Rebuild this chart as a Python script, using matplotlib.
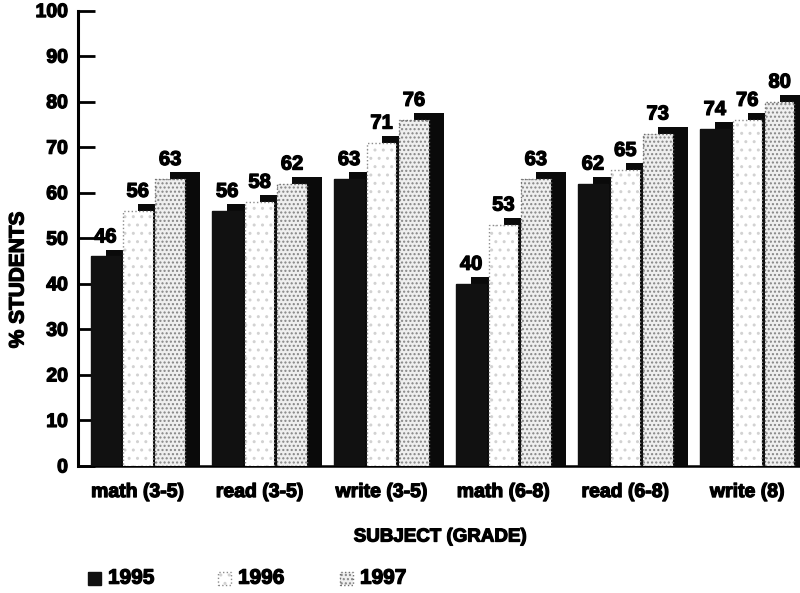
import numpy as np
import matplotlib.pyplot as plt
import matplotlib.patheffects as pe
from matplotlib.patches import Rectangle

subjects = ["math (3-5)", "read (3-5)", "write (3-5)", "math (6-8)", "read (6-8)", "write (8)"]
years = ["1995", "1996", "1997"]
pct_1995 = [46, 56, 63, 40, 62, 74]
pct_1996 = [56, 58, 71, 53, 65, 76]
pct_1997 = [63, 62, 76, 63, 73, 80]
yticks = list(range(0, 101, 10))

plt.rcParams['font.family'] = ['Liberation Sans', 'DejaVu Sans']
plt.rcParams['font.weight'] = 'bold'
plt.rcParams['hatch.linewidth'] = 1.0

# heavier strokes on the bold type
heavy = [pe.withStroke(linewidth=0.9, foreground='black')]

# bar geometry (one group = 1 unit on x)
step = 0.266
width = 0.242
depth_x = 0.123
depth_y = 1.5

# face, hatch (drawn in the hatch colour), outline colour
styles = [
    dict(face='#111111', hatch=None, hcol='#111111', edge='#111111', ls='-'),
    dict(face='white', hatch='..', hcol='#d2d2d2', edge='#8c8c8c', ls=':'),
    dict(face='#efefef', hatch='....', hcol='#858585', edge='#6e6e6e', ls=':'),
]

fig = plt.figure(figsize=(8, 5.93), dpi=100)
ax = fig.add_axes([0.097, 0.2142, 0.903, 0.768])

x = np.arange(len(subjects))
series = [pct_1995, pct_1996, pct_1997]
for j, (vals, st) in enumerate(zip(series, styles)):
    vals = np.array(vals)
    left = x + j * step
    # dark side/top of each 3D bar
    ax.bar(left + depth_x, vals + depth_y, width=width, align='edge',
           color='#0a0a0a', linewidth=0, zorder=3 * j + 2)
    ax.bar(left, vals, width=width, align='edge', facecolor=st['face'],
           edgecolor=st['hcol'], hatch=st['hatch'], linewidth=0,
           zorder=3 * j + 3)
    ax.bar(left, vals, width=width, align='edge', fill=False,
           edgecolor=st['edge'], linestyle=st['ls'], linewidth=1.0,
           zorder=3 * j + 4)
    for xl, v in zip(left, vals):
        ax.text(xl + width / 2, v + depth_y + 0.7, str(v), ha='center',
                va='bottom', fontsize=14.5, fontweight='bold', zorder=20,
                path_effects=heavy)

ax.set_xlim(-13 / 122, 710 / 122)
ax.set_ylim(0, 100)
ax.set_yticks(yticks)
ax.set_xticks(x + (2 * step + width) / 2)
ax.set_xticklabels(subjects)
ax.tick_params(axis='y', direction='in', length=12.5, width=2.0, pad=7,
               labelsize=14)
ax.tick_params(axis='x', length=0, pad=13, labelsize=14)
for lab in ax.get_xticklabels() + ax.get_yticklabels():
    lab.set_fontweight('bold')
    lab.set_path_effects(heavy)

for s in ['top', 'right']:
    ax.spines[s].set_visible(False)
ax.spines['left'].set_linewidth(2.2)
ax.spines['bottom'].set_linewidth(1.8)

fig.text(0.0225, 0.528, "% STUDENTS", rotation=90, ha='center', va='center',
         fontsize=15, fontweight='bold', path_effects=heavy)
fig.text(0.55, 0.0944, "SUBJECT (GRADE)", ha='center', va='center',
         fontsize=13.5, fontweight='bold', path_effects=heavy)

# legend
leg_x = [0.110, 0.2725, 0.425]
for lx, yr, st in zip(leg_x, years, styles):
    fig.add_artist(Rectangle((lx, 0.014), 0.016, 0.022, transform=fig.transFigure,
                             facecolor=st['face'], edgecolor=st['hcol'],
                             hatch=st['hatch'], linewidth=0))
    fig.add_artist(Rectangle((lx, 0.014), 0.016, 0.022, transform=fig.transFigure,
                             fill=False, edgecolor=st['edge'],
                             linestyle=st['ls'], linewidth=1.0))
    fig.text(lx + 0.025, 0.025, yr, ha='left', va='center', fontsize=15,
             fontweight='bold', path_effects=heavy)

fig.savefig("out.png", dpi=100)
